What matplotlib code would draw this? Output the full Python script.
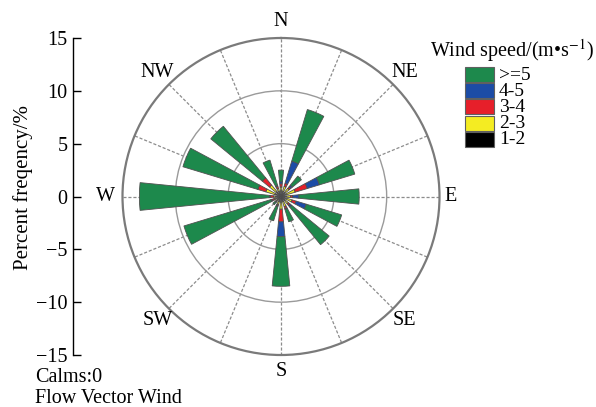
import numpy as np
import matplotlib
matplotlib.use("Agg")
import matplotlib.pyplot as plt
from matplotlib.patches import Rectangle

plt.rcParams['font.family'] = ['Liberation Serif', 'DejaVu Serif']
plt.rcParams['mathtext.fontset'] = 'stix'

# Sixteen compass sectors, clockwise from north
directions = ['N', 'NNE', 'NE', 'ENE', 'E', 'ESE', 'SE', 'SSE',
              'S', 'SSW', 'SW', 'WSW', 'W', 'WNW', 'NW', 'NNW']
compass_labels = ['N', 'NE', 'E', 'SE', 'S', 'SW', 'W', 'NW']

# Percent frequency per speed class (m/s) for each sector
freq_1_2 = [0.5, 0.5, 0.5, 0.5, 0.5, 0.5, 0.5, 0.5, 0.5, 0.5, 0.4, 0.5, 0.5, 0.6, 0.6, 0.5]
freq_2_3 = [0.4, 0.5, 0.5, 0.9, 0.4, 0.6, 0.4, 0.5, 0.7, 0.3, 0.2, 0.2, 0.2, 0.9, 0.8, 0.3]
freq_3_4 = [0.3, 0.3, 0.2, 1.2, 0.2, 0.4, 0.2, 0.2, 1.2, 0.1, 0.1, 0.2, 0.3, 0.8, 0.9, 0.2]
freq_4_5 = [0.2, 2.2, 0.2, 1.2, 0.6, 1.0, 0.2, 0.1, 1.4, 0.1, 0.0, 0.1, 0.1, 0.0, 0.0, 0.1]
freq_ge5 = [1.1, 5.1, 1.1, 3.5, 5.7, 3.5, 4.6, 1.2, 4.7, 1.4, 0.3, 8.6, 12.3, 7.4, 6.3, 2.5]

speed_labels = ['1-2', '2-3', '3-4', '4-5', '>=5']
speed_colors = ['#000000', '#f4ec22', '#e61f2a', '#1c4ca6', '#1d894c']
series = [freq_1_2, freq_2_3, freq_3_4, freq_4_5, freq_ge5]

W, H = 596, 407
fig = plt.figure(figsize=(W / 100, H / 100), dpi=100)

cx, cy, rad = 281.0, 196.5, 158.5
ax = fig.add_axes([(cx - rad) / W, (H - cy - rad) / H, 2 * rad / W, 2 * rad / H],
                  projection='polar')
ax.set_theta_zero_location('N')
ax.set_theta_direction(-1)
ax.set_ylim(0, 15)
ax.set_axisbelow(True)

theta = np.deg2rad(np.arange(len(directions)) * 22.5)
width = np.deg2rad(11.25)
base = np.zeros(len(directions))
for vals, col in zip(series, speed_colors):
    vals = np.asarray(vals)
    ax.bar(theta, vals, width=width, bottom=base, color=col,
           edgecolor='#505050', linewidth=0.6, zorder=3)
    base = base + vals

# grid: dashed spokes every 22.5 deg, solid rings at 5 and 10
ax.set_xticks(np.deg2rad(np.arange(0, 360, 22.5)))
ax.set_xticks(np.deg2rad(np.arange(11.25, 360, 22.5)), minor=True)
ax.set_xticklabels([])
ax.tick_params(axis='x', which='both', direction='in', length=5,
               color='#777777', width=1)
ax.xaxis.grid(True, linestyle=(0, (2.5, 1.5)), color='#8c8c8c', linewidth=0.9)
ax.set_yticks([5, 10])
ax.set_yticklabels([])
ax.yaxis.grid(True, linestyle='-', color='#9a9a9a', linewidth=1.0)
ax.spines['polar'].set_color('#7a7a7a')
ax.spines['polar'].set_linewidth(1.6)

label_radius = {'E': 16.0, 'W': 16.6}
for i, lab in enumerate(compass_labels):
    ax.text(np.deg2rad(i * 45), label_radius.get(lab, 16.55), lab,
            ha='center', va='center', fontsize=14.5, clip_on=False)

# left percent scale
ax2 = fig.add_axes([73 / W, (H - cy - rad) / H, 0.01, 2 * rad / H])
ax2.set_ylim(-15, 15)
ax2.set_yticks(np.arange(-15, 16, 5))
ax2.set_xticks([])
for s in ['top', 'right', 'bottom']:
    ax2.spines[s].set_visible(False)
ax2.spines['left'].set_linewidth(1.0)
ax2.tick_params(axis='y', direction='in', length=6, width=1, pad=4,
                labelsize=14.5)
ax2.patch.set_visible(False)

fig.text(23 / W, 1 - 188 / H, 'Percent freqency/%', rotation=90,
         ha='center', va='center', fontsize=15)

fig.text(35 / W, 1 - 382 / H, 'Calms:0', ha='left', va='baseline', fontsize=14.5)
fig.text(35 / W, 1 - 403 / H, 'Flow Vector Wind', ha='left', va='baseline',
         fontsize=14.5)

# speed-class key
fig.text(430 / W, 1 - 57 / H, 'Wind speed/(m\u2022s$^{-1}$)', ha='left',
         va='baseline', fontsize=14.5)
for i, (lab, col) in enumerate(zip(speed_labels[::-1], speed_colors[::-1])):
    top = 67 + i * 16.2
    fig.add_artist(Rectangle((465 / W, 1 - (top + 15) / H), 29 / W, 15 / H,
                             transform=fig.transFigure, facecolor=col,
                             edgecolor='#606060', linewidth=0.8))
    fig.text(499 / W, 1 - (top + 12.5) / H, lab, ha='left', va='baseline',
             fontsize=14)

fig.savefig('out.png', dpi=100)
